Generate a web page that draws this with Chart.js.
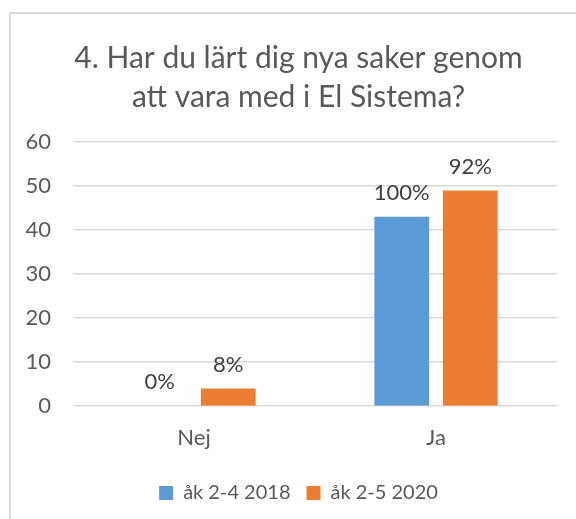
<!DOCTYPE html>
<html>
<head>
<meta charset="utf-8">
<script src="https://cdn.jsdelivr.net/npm/chart.js@4"></script>
<style>
  html, body { margin: 0; padding: 0; background: #fff; overflow: hidden; }
  #frame { position: absolute; left: 9px; top: 12px; width: 600px; height: 540px; border: 2px solid #d9d9d9; }
  #wrap { position: absolute; left: 0; top: 0; width: 576px; height: 519px; }
</style>
</head>
<body>
<div id="frame"></div>
<div id="wrap"><canvas id="chart"></canvas></div>
<script>
// categories and series
var categories = ['Nej', 'Ja'];
var seriesNames = ['åk 2-4 2018', 'åk 2-5 2020'];
var values2018 = [0, 43];
var values2020 = [4, 49];
// percentage labels shown over the bars
var labels2018 = ['0%', '100%'];
var labels2020 = ['8%', '92%'];
var yTicks = [0, 10, 20, 30, 40, 50, 60];

var FONT = 'Lato, "Open Sans", sans-serif';

// small plugin to write the % labels above each bar
var barLabels = {
    id: 'barLabels',
    // let the y labels reach into the left padding (they are clipped to the axis box)
    afterLayout: function (chart) {
        chart.scales.y.left = 0;
    },
    afterDatasetsDraw: function (chart) {
        var ctx = chart.ctx;
        ctx.save();
        ctx.font = '22px ' + FONT;
        ctx.fillStyle = '#404040';
        ctx.textAlign = 'center';
        ctx.textBaseline = 'middle';
        chart.data.datasets.forEach(function (ds, i) {
            var meta = chart.getDatasetMeta(i);
            meta.data.forEach(function (bar, j) {
                ctx.fillText(ds.pctLabels[j], bar.x, bar.y - 24);
            });
        });
        ctx.restore();
    }
};

new Chart(document.getElementById('chart'), {
    type: 'bar',
    data: {
        labels: categories,
        datasets: [{
            label: seriesNames[0],
            data: values2018,
            pctLabels: labels2018,
            backgroundColor: '#5B9BD5'
        }, {
            label: seriesNames[1],
            data: values2020,
            pctLabels: labels2020,
            backgroundColor: '#ED7D31'
        }]
    },
    options: {
        responsive: true,
        maintainAspectRatio: false,
        animation: false,
        categoryPercentage: 0.566,
        barPercentage: 0.8,
        layout: { padding: { left: 40, right: 19, top: 0, bottom: 6 } },
        plugins: {
            title: {
                display: true,
                text: ['4. Har du lärt dig nya saker genom', 'att vara med i El Sistema?'],
                color: '#595959',
                font: { family: FONT, size: 30, weight: 'normal', lineHeight: 1.3 },
                padding: { top: 39, bottom: 25 }
            },
            legend: {
                position: 'bottom',
                labels: {
                    color: '#595959',
                    font: { family: FONT, size: 20 },
                    boxWidth: 14,
                    boxHeight: 14,
                    padding: 16
                }
            },
            tooltip: { enabled: false }
        },
        scales: {
            x: {
                grid: { display: false },
                border: { display: false },
                ticks: { color: '#595959', font: { family: FONT, size: 22 }, padding: 11 },
                afterFit: function (axis) { axis.height += 4.4; }
            },
            y: {
                min: 0,
                max: 60,
                afterBuildTicks: function (axis) {
                    axis.ticks = yTicks.map(function (v) { return { value: v }; });
                },
                afterFit: function (axis) { axis.width = 33; },
                grid: { color: '#d9d9d9', lineWidth: 1.5, drawTicks: false },
                border: { display: false },
                ticks: { color: '#595959', font: { family: FONT, size: 22 }, padding: 22 }
            }
        }
    },
    plugins: [barLabels]
});
</script>
</body>
</html>
